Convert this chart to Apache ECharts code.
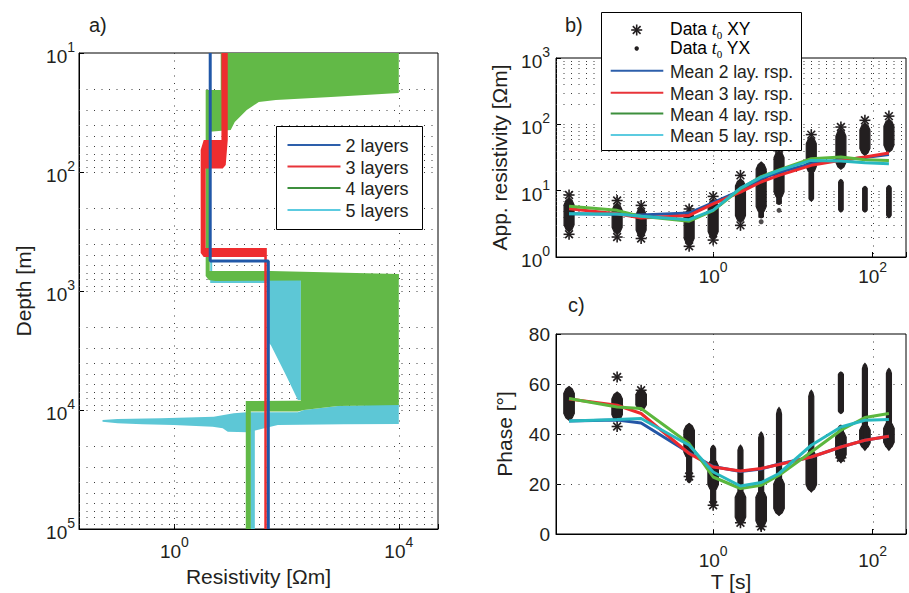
<!DOCTYPE html>
<html><head><meta charset="utf-8">
<script src="https://cdn.jsdelivr.net/npm/echarts@6/dist/echarts.min.js"></script>
<style>html,body{margin:0;padding:0;background:#fff}#c{width:909px;height:593px}</style>
</head><body><div id="c"></div>
<script>
// ===== Panel a: layered resistivity models, vertices as [resistivity (Ohm m), depth (m)] =====
const twoLayerModel = [[4.36, 10], [4.36, 560], [47.3, 560], [47.3, 100000]];
const threeLayerBand = [
  [6.91, 10], [8.95, 10], [8.95, 53.8], [8.24, 87.3], [7.29, 93.4], [3.62, 93.4],
  [3.62, 435], [44.5, 435], [44.5, 100000], [40.1, 100000], [40.1, 518],
  [3.34, 518], [2.95, 479], [2.95, 65.3], [3.34, 53.8], [6.91, 53.8]
];
const fourLayerBands = [
  [[6.71, 10], [10000, 10], [10000, 21.7], [618, 23.4], [64.4, 24.8], [32, 25.8], [25, 27.9], [19.55, 30.1],
   [15.27, 33.8], [11.94, 38], [10.1, 44.4], [3.77, 46.1], [3.77, 20.5], [6.71, 20.5]],
  [[3.62, 20.5], [4.27, 20.5], [4.27, 679], [52.4, 679], [10000, 719], [10000, 808], [5.46, 824], [4.10, 808], [3.62, 748]],
  [[180, 719], [10000, 719], [10000, 8570], [180, 8570]],
  [[18.76, 8400], [10000, 8240], [10000, 9080], [824, 9255], [204, 10000], [159, 10290], [23.05, 10290],
   [23.05, 100000], [18.76, 100000]]
];
const fiveLayerBands = [
  [[4.36, 571], [4.73, 571], [4.73, 793], [48.3, 793], [48.3, 857], [4.36, 857]],
  [[48.3, 793], [180, 793], [180, 8240], [159, 8240], [97.2, 5080], [64.4, 3450], [52.4, 2843], [48.3, 2735]],
  [[0.0525, 12130], [0.0971, 11900], [0.569, 11740], [5.03, 11380], [11.45, 10660], [19.55, 10450], [159, 10450],
   [204, 10000], [824, 9255], [10000, 8905], [10000, 13110], [1055, 13190], [69.9, 13370], [20.37, 15390],
   [8.95, 15220], [7.29, 14250], [4.83, 13820], [0.972, 13370], [0.2716, 13190], [0.0971, 12940], [0.0525, 12540]],
  [[22.58, 13110], [27.2, 13110], [27.2, 100000], [22.58, 100000]]
];

// ===== Panels b/c: periods (s) =====
const periods = [0.0156, 0.0625, 0.125, 0.5, 1, 2.2, 4, 6.7, 17, 40, 80, 160];
// mean responses
const rhoMean2 = [4.5, 4.4, 4.3, 4.6, 6.6, 10.0, 15.1, 18.9, 25.5, 29.0, 31.5, 35.0];
const rhoMean3 = [5.35, 4.5, 3.87, 4.24, 6.3, 9.5, 13.5, 17.0, 24.1, 28.6, 32.1, 36.9];
const rhoMean4 = [5.8, 5.05, 4.1, 3.47, 5.0, 10.7, 16.3, 20.5, 30.4, 32.1, 29.3, 28.6];
const rhoMean5 = [4.5, 4.45, 4.1, 3.65, 5.1, 10.9, 16.0, 20.2, 28.6, 28.0, 26.4, 25.5];
const phaseMean2 = [45.2, 45.6, 44.4, 32.5, 27.0, 25.0, 26.0, 28.0, 30.8, 34.8, 37.5, 39.1];
const phaseMean3 = [54.0, 51.5, 48.2, 32.2, 26.8, 25.2, 26.2, 27.8, 30.8, 34.8, 37.5, 39.1];
const phaseMean4 = [54.2, 50.8, 50.2, 36.2, 22.8, 18.2, 19.5, 23.5, 32.8, 41.5, 46.6, 48.2];
const phaseMean5 = [45.2, 45.8, 46.2, 35.5, 24.8, 19.2, 20.6, 24.2, 35.5, 42.8, 45.5, 45.8];
// data clouds: [period, low, high]
const rhoXYRange = [[0.0156, 2.4, 7.8], [0.0625, 2.2, 6.5], [0.125, 2.0, 5.6], [0.5, 1.5, 5.0], [1, 1.9, 7.5],
  [2.2, 3.3, 15], [4, 4.5, 27], [6.7, 7.5, 40], [17, 18, 65], [40, 21, 85], [80, 34, 105], [160, 38, 120]];
const rhoYXRange = [[4, 3.9, 6], [6.7, 6.2, 10], [17, 7.0, 20], [40, 4.75, 14.7], [80, 4.75, 11.6], [160, 3.9, 12]];
const rhoYXDots = [[4, 3.4], [6.7, 5.05]];
const rhoXYStars = [[0.0156, 8.6], [0.0156, 2.2], [0.0625, 7.1], [0.0625, 2.0], [0.125, 6.0], [0.125, 1.9],
  [0.5, 5.3], [0.5, 1.45], [1, 8.2], [1, 1.8], [2.2, 17], [2.2, 3.0], [6.7, 43], [17, 70], [40, 91], [80, 115], [160, 133]];
const phaseXYRange = [[0.0156, 45.5, 59], [0.0625, 45, 56.8], [0.125, 49.5, 58], [0.5, 30, 44.2], [1, 17, 30],
  [2.2, 4, 17.5], [4, 2.5, 17.5], [6.7, 7.5, 22.8], [17, 17, 33.5], [40, 29, 41.5], [80, 34, 44], [160, 34, 45]];
const phaseYXRange = [[0.5, 20.5, 44], [1, 10.8, 35.5], [2.2, 3.5, 35.5], [4, 1.5, 40.8], [6.7, 7.5, 50.6],
  [17, 16.8, 57.5], [40, 48.2, 64.8], [40, 28.8, 43.5], [80, 33.5, 68.2], [160, 33.5, 66.2]];
const phaseXYStars = [[0.0625, 62.8], [0.0625, 43], [0.125, 57.5], [0.5, 23], [1, 11.5], [2.2, 4.5], [4, 3], [40, 30.5]];

// tick labels
const resTickExp = [0, 4];
const depthTickExp = [1, 2, 3, 4, 5];
const rhoTickExp = [0, 1, 2, 3];
const periodTickExp = [0, 2];
const layerNames = ['2 layers', '3 layers', '4 layers', '5 layers'];
const meanNames = ['Mean 2 lay. rsp.', 'Mean 3 lay. rsp.', 'Mean 4 lay. rsp.', 'Mean 5 lay. rsp.'];

// ===== styling =====
const FONT = '"Liberation Sans", Arial, Helvetica, sans-serif';
const INK = '#231f20';
const COL = {blue: '#2158a8', red: '#ee2d2f', green: '#62b947', cyan: '#5dc7d6'};
const LINE = {blue: '#2456a6', red: '#ee2a2e', green: '#5cb73e', cyan: '#28b8c0'};
const LEG = ['#2d5fab', '#e8343a', '#3d8f3d', '#5ccbe0'];
const GRIDC = '#3c3c3c';

// grid line positions (major + minor decades)
function logGridValues(e0, e1) {
  const out = [];
  for (let e = e0; e < e1; e++) for (let m = 1; m <= 9; m++) { const v = m * Math.pow(10, e); if (!(m === 1 && e === e0)) out.push(v); }
  return out;
}
const depthGrid = logGridValues(1, 5);
const rhoGrid = logGridValues(0, 3);

function powLabel(allowed) {
  return function (v) {
    const l = Math.log10(v), e = Math.round(l);
    if (Math.abs(l - e) > 1e-4 || allowed.indexOf(e) < 0) return '';
    return '{b|10}{s|' + e + '}';
  };
}
const rich = {
  b: {fontSize: 19, lineHeight: 26, verticalAlign: 'bottom', fontFamily: FONT, color: INK},
  s: {fontSize: 14, verticalAlign: 'top', fontFamily: FONT, color: INK}
};
function axisBase(extra) {
  return Object.assign({
    axisLine: {show: true, onZero: false, lineStyle: {color: '#000', width: 1}},
    axisTick: {show: true, inside: true, length: 5, lineStyle: {color: '#000'}},
    splitLine: {show: false},
    nameLocation: 'middle',
    nameTextStyle: {fontSize: 21, color: INK, fontFamily: FONT}
  }, extra);
}

function hGrid(idx, values, xRef) {
  return {type: 'custom', xAxisIndex: idx, yAxisIndex: idx, z: 1, silent: true,
    data: values.map(v => [xRef, v]), encode: {x: 0, y: 1},
    renderItem: (params, api) => {
      const cs = params.coordSys;
      const y = Math.round(api.coord([api.value(0), api.value(1)])[1]) + 0.5;
      return {type: 'line', shape: {x1: cs.x, y1: y, x2: cs.x + cs.width, y2: y},
        style: {stroke: GRIDC, lineWidth: 1, lineDash: [1, 6.5]}};
    }};
}
function vGrid(idx, values, yRef) {
  return {type: 'custom', xAxisIndex: idx, yAxisIndex: idx, z: 1, silent: true,
    data: values.map(v => [v, yRef]), encode: {x: 0, y: 1},
    renderItem: (params, api) => {
      const cs = params.coordSys;
      const x = Math.round(api.coord([api.value(0), api.value(1)])[0]) + 0.5;
      return {type: 'line', shape: {x1: x, y1: cs.y, x2: x, y2: cs.y + cs.height},
        style: {stroke: GRIDC, lineWidth: 1, lineDash: [1, 6.5]}};
    }};
}
function bandSeries(name, polys, color, z) {
  return {type: 'custom', name, xAxisIndex: 0, yAxisIndex: 0, z, silent: true, clip: true,
    data: polys.map((p, i) => [p[0][0], p[0][1], i]), encode: {x: 0, y: 1},
    renderItem: (params, api) => ({type: 'polygon',
      shape: {points: polys[api.value(2)].map(pt => api.coord(pt))}, style: {fill: color}})};
}
function cloudSeries(idx, ranges, width, taper, z) {
  return {type: 'custom', xAxisIndex: idx, yAxisIndex: idx, z, silent: true,
    data: ranges, encode: {x: 0, y: [1, 2]},
    renderItem: (params, api) => {
      const a = api.coord([api.value(0), api.value(2)]), b = api.coord([api.value(0), api.value(1)]);
      const x = a[0], y1 = a[1], y2 = b[1], h = y2 - y1, w = width / 2;
      const t = Math.min(taper * h, 7);
      const pts = [[x, y1], [x + w * 0.6, y1 + t * 0.35], [x + w, y1 + t], [x + w, y2 - t],
        [x + w * 0.6, y2 - t * 0.35], [x, y2], [x - w * 0.6, y2 - t * 0.35], [x - w, y2 - t],
        [x - w, y1 + t], [x - w * 0.6, y1 + t * 0.35]];
      return {type: 'polygon', shape: {points: pts}, style: {fill: INK, stroke: INK, lineWidth: 1.2}};
    }};
}
function starShape(cx, cy, r, z) {
  const ch = [];
  for (let k = 0; k < 4; k++) {
    const a = k * Math.PI / 4;
    ch.push({type: 'line', z, shape: {x1: cx - r * Math.cos(a), y1: cy - r * Math.sin(a), x2: cx + r * Math.cos(a), y2: cy + r * Math.sin(a)},
      style: {stroke: INK, lineWidth: 1.6}});
  }
  return ch;
}
function starSeries(idx, pts, z) {
  return {type: 'custom', xAxisIndex: idx, yAxisIndex: idx, z, silent: true,
    data: pts, encode: {x: 0, y: 1},
    renderItem: (params, api) => {
      const p = api.coord([api.value(0), api.value(1)]);
      return {type: 'group', children: starShape(p[0], p[1], 5.5)};
    }};
}
function dotSeries(idx, pts, z) {
  return {type: 'scatter', xAxisIndex: idx, yAxisIndex: idx, z, silent: true, data: pts,
    symbol: 'circle', symbolSize: 5, itemStyle: {color: INK}};
}
function meanLine(idx, values, color, z) {
  return {type: 'line', xAxisIndex: idx, yAxisIndex: idx, z, silent: true,
    data: periods.map((t, i) => [t, values[i]]), symbol: 'none', showSymbol: false,
    lineStyle: {color, width: 3}, itemStyle: {color}};
}

const gridStyle = {show: true, borderColor: '#000', borderWidth: 1, backgroundColor: 'transparent', containLabel: false};
const option = {
  animation: false,
  textStyle: {fontFamily: FONT},
  grid: [
    Object.assign({left: 79, top: 53, width: 359, height: 476}, gridStyle),
    Object.assign({left: 556, top: 58, width: 353, height: 199}, gridStyle),
    Object.assign({left: 556, top: 334, width: 353, height: 200}, gridStyle)
  ],
  xAxis: [
    axisBase({type: 'log', gridIndex: 0, logBase: 10000, min: 0.02, max: 50000, name: 'Resistivity [Ωm]', nameGap: 37,
      axisLabel: {formatter: powLabel(resTickExp), rich, margin: 6}}),
    axisBase({type: 'log', gridIndex: 1, logBase: 100, min: 0.0107, max: 262,
      axisLabel: {formatter: powLabel(periodTickExp), rich, margin: 3}}),
    axisBase({type: 'log', gridIndex: 2, logBase: 100, min: 0.0107, max: 262, name: 'T [s]', nameGap: 37,
      axisLabel: {formatter: powLabel(periodTickExp), rich, margin: 10}})
  ],
  yAxis: [
    axisBase({type: 'log', gridIndex: 0, logBase: 10, min: 10, max: 100000, inverse: true, name: 'Depth [m]', nameGap: 45,
      axisLabel: {formatter: powLabel(depthTickExp), rich, margin: 4, showMinLabel: true, showMaxLabel: true}}),
    axisBase({type: 'log', gridIndex: 1, logBase: 10, min: 1, max: 1000, name: 'App. resistivity [Ωm]', nameGap: 46,
      axisLabel: {formatter: powLabel(rhoTickExp), rich, margin: 6, showMinLabel: true, showMaxLabel: true}}),
    axisBase({type: 'value', gridIndex: 2, min: 0, max: 80, interval: 20, name: 'Phase [°]', nameGap: 41,
      axisLabel: {fontSize: 19, color: INK, fontFamily: FONT, margin: 6}})
  ],
  series: [
    hGrid(0, depthGrid, 1), vGrid(0, [1, 10000], 100),
    hGrid(1, rhoGrid, 1), vGrid(1, [1, 100], 10),
    hGrid(2, [20, 40, 60], 1), vGrid(2, [1, 100], 40),
    bandSeries(layerNames[3], fiveLayerBands, COL.cyan, 2),
    bandSeries(layerNames[2], fourLayerBands, COL.green, 3),
    bandSeries(layerNames[1], [threeLayerBand], COL.red, 4),
    {type: 'line', name: layerNames[0], xAxisIndex: 0, yAxisIndex: 0, z: 5, silent: true, data: twoLayerModel,
      symbol: 'none', showSymbol: false, lineStyle: {color: COL.blue, width: 3}, itemStyle: {color: COL.blue}},
    cloudSeries(1, rhoXYRange, 10, 0.25, 3), cloudSeries(1, rhoYXRange, 4.5, 0.08, 3), starSeries(1, rhoXYStars, 3), dotSeries(1, rhoYXDots, 3),
    meanLine(1, rhoMean2, LINE.blue, 5), meanLine(1, rhoMean3, LINE.red, 6), meanLine(1, rhoMean4, LINE.green, 7), meanLine(1, rhoMean5, LINE.cyan, 8),
    cloudSeries(2, phaseXYRange, 10.5, 0.25, 3), cloudSeries(2, phaseYXRange, 5, 0.06, 3), starSeries(2, phaseXYStars, 3),
    meanLine(2, phaseMean2, LINE.blue, 5), meanLine(2, phaseMean3, LINE.red, 6), meanLine(2, phaseMean4, LINE.green, 7), meanLine(2, phaseMean5, LINE.cyan, 8)
  ],
  graphic: []
};

// panel letters
const letters = [['a)', 89, 25], ['b)', 565, 25], ['c)', 568, 305]];
letters.forEach(l => option.graphic.push({type: 'text', x: l[1], y: l[2], z: 100,
  style: {text: l[0], fontSize: 20, fill: INK, fontFamily: FONT, align: 'left', verticalAlign: 'middle'}}));

// legend a
option.graphic.push({type: 'rect', z: 100, shape: {x: 276.5, y: 126.5, width: 146, height: 103}, style: {fill: '#fff', stroke: '#000', lineWidth: 1}});
const legAY = [145, 166.5, 188, 210];
layerNames.forEach((n, i) => {
  option.graphic.push({type: 'line', z: 101, shape: {x1: 287.5, y1: legAY[i], x2: 340.5, y2: legAY[i]}, style: {stroke: LEG[i], lineWidth: 2}});
  option.graphic.push({type: 'text', z: 101, x: 345.5, y: legAY[i] + 1,
    style: {text: n, fontSize: 18, fill: INK, fontFamily: FONT, align: 'left', verticalAlign: 'middle'}});
});

// legend b
option.graphic.push({type: 'rect', z: 100, shape: {x: 601.5, y: 12.5, width: 200, height: 138}, style: {fill: '#fff', stroke: '#000', lineWidth: 1}});
option.graphic.push({type: 'group', z: 101, children: starShape(636.7, 30, 5.5, 101)});
option.graphic.push({type: 'circle', z: 101, shape: {cx: 636.7, cy: 48.5, r: 2.2}, style: {fill: INK}});
const dataRich = {
  n: {fontSize: 17.5, verticalAlign: 'top', fontFamily: FONT, color: INK},
  t: {fontSize: 18, verticalAlign: 'top', fontFamily: '"Liberation Serif", "Times New Roman", serif', fontStyle: 'italic', color: INK},
  o: {fontSize: 11, lineHeight: 20, verticalAlign: 'bottom', fontFamily: '"Liberation Serif", "Times New Roman", serif', color: INK}
};
[['XY', 30], ['YX', 49]].forEach(d => option.graphic.push({type: 'text', z: 101, x: 670, y: d[1],
  style: {text: '{n|Data }{t|t}{o|0}{n| ' + d[0] + '}', rich: dataRich, align: 'left', verticalAlign: 'middle'}}));
const legBY = [70.7, 92.7, 113.5, 135];
meanNames.forEach((n, i) => {
  option.graphic.push({type: 'line', z: 101, shape: {x1: 610.7, y1: legBY[i], x2: 663.3, y2: legBY[i]}, style: {stroke: LEG[i], lineWidth: 2}});
  option.graphic.push({type: 'text', z: 101, x: 670, y: legBY[i] + 1,
    style: {text: n, fontSize: 17.5, fill: INK, fontFamily: FONT, align: 'left', verticalAlign: 'middle'}});
});

const chart = echarts.init(document.getElementById('c'), null, {renderer: 'svg', width: 909, height: 593});
chart.setOption(option);
</script></body></html>
